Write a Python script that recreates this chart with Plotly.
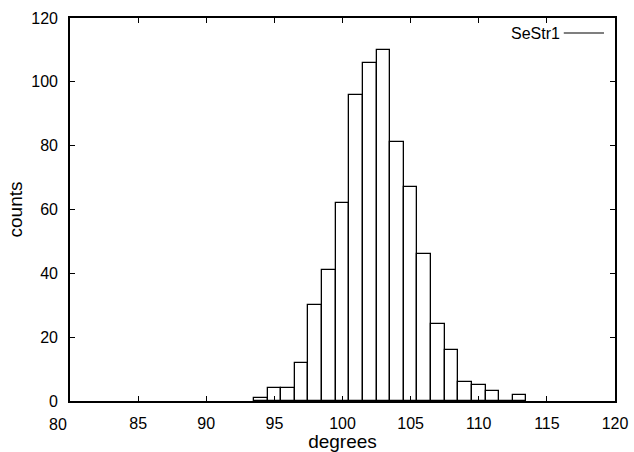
import plotly.graph_objects as go

# Histogram data (bin centres in degrees, counts)
bin_centers = [94, 95, 96, 97, 98, 99, 100, 101, 102, 103, 104, 105, 106, 107, 108, 109, 110, 111, 112, 113]
counts = [1, 4, 4, 12, 30, 41, 62, 96, 106, 110, 81, 67, 46, 24, 16, 6, 5, 3, 0, 2]
series_name = "SeStr1"
x_ticks = [80, 85, 90, 95, 100, 105, 110, 115, 120]
y_ticks = [0, 20, 40, 60, 80, 100, 120]

FONT = "Liberation Sans, Arial, Helvetica, sans-serif"
FS = 16

fig = go.Figure()
fig.add_trace(go.Bar(
    x=bin_centers, y=counts, width=1,
    marker=dict(color="white", line=dict(color="black", width=1.3)),
    name=series_name, showlegend=False,
))

fig.update_layout(
    width=634, height=452,
    margin=dict(l=70, r=19, t=18, b=51),
    paper_bgcolor="white", plot_bgcolor="white",
    font=dict(family=FONT, size=FS, color="black"),
    bargap=0,
    xaxis=dict(
        range=[80, 120], tickvals=x_ticks,
        ticktext=["" if v == 80 else str(v) for v in x_ticks],
        ticks="inside", ticklen=5, tickwidth=1, tickcolor="black",
        showline=True, linecolor="black", linewidth=1.6, mirror="ticks",
        showgrid=False, zeroline=False, automargin=False,
        title=dict(text="degrees", standoff=3),
        ticklabelstandoff=7,
    ),
    yaxis=dict(
        range=[0, 120], tickvals=y_ticks,
        ticks="inside", ticklen=5, tickwidth=1, tickcolor="black",
        showline=True, linecolor="black", linewidth=1.6, mirror="ticks",
        showgrid=False, zeroline=False, automargin=False,
        title=dict(text="counts", standoff=4),
        ticklabelstandoff=7,
    ),
)

# gnuplot-style shifted first x label
fig.add_annotation(x=80, y=0, xref="x", yref="paper", text="80", showarrow=False,
                   xanchor="center", yanchor="top", xshift=-12, yshift=-13,
                   font=dict(family=FONT, size=FS))

# gnuplot-style key: text right-justified, then line sample
fig.add_annotation(x=0.9028, y=0.9608, xref="paper", yref="paper", text=series_name,
                   showarrow=False, xanchor="right", yanchor="middle",
                   font=dict(family=FONT, size=FS))
fig.add_shape(type="line", xref="paper", yref="paper", x0=0.906, x1=0.9798,
              y0=0.9608, y1=0.9608, line=dict(color="black", width=1.2))

fig.write_html("out.html", config={"displayModeBar": False},
               post_script="document.body.style.margin='0';document.body.style.overflow='hidden';")
